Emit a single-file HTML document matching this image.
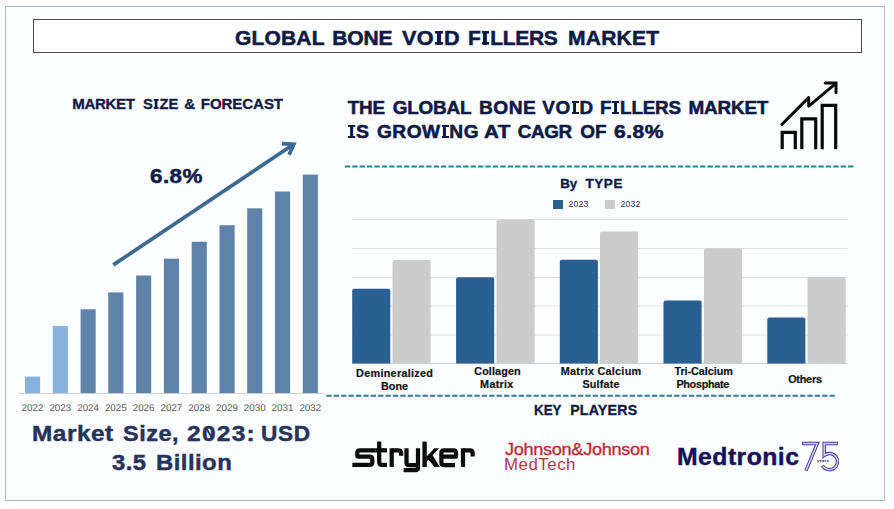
<!DOCTYPE html>
<html>
<head>
<meta charset="utf-8">
<title>Global Bone Void Fillers Market</title>
<style>
  html, body { margin:0; padding:0; }
  body { width:894px; height:509px; overflow:hidden; background:#ffffff; position:relative;
         font-family:"Liberation Sans", sans-serif; }
  .abs { position:absolute; }
  .t { position:absolute; white-space:nowrap; font-weight:bold; color:#0f1a45; line-height:1; }
  #frame { left:5px; top:6px; width:880px; height:494.5px; border:1.5px solid #a8bcc6; background:#fbfdfe; box-sizing:border-box; }
  #titlebox { left:33px; top:19px; width:829px; height:34px; border:1.5px solid #4a4a4a; background:#ffffff; box-sizing:border-box; }
  .lbar { position:absolute; width:15px; background:#5f83a8; }
  .lbar.lt { background:#86b2dc; }
  .yr { position:absolute; top:403px; width:28px; text-align:center; font-size:9.8px; text-rendering:geometricPrecision; color:#595959; line-height:12px; }
  .grid { position:absolute; left:352px; width:496px; height:1px; background:#e2e2e2; }
  .rb { position:absolute; width:38px; border-radius:2px 2px 0 0; }
  .rb.b { background:#2a5f92; }
  .rb.g { background:#cccccc; }
  .cat { position:absolute; width:104px; text-align:center; font-weight:bold; font-size:11px; line-height:13px; color:#111111; }
  .sI{display:inline-block;width:0.37em;height:0.69em;margin:0 0.045em;vertical-align:baseline;background:linear-gradient(currentColor,currentColor) center/0.185em 100% no-repeat,linear-gradient(currentColor,currentColor) top/100% 0.125em no-repeat,linear-gradient(currentColor,currentColor) bottom/100% 0.125em no-repeat;}
</style>
</head>
<body>
<div id="frame" class="abs"></div>
<div id="titlebox" class="abs"></div>

<!-- left section -->

<svg class="abs" style="left:0;top:0;" width="894" height="509" viewBox="0 0 894 509">
  <!-- big arrow -->
  <g fill="none" stroke="#3b6a94" stroke-width="3.7" stroke-linecap="butt" stroke-linejoin="miter">
    <line x1="113.3" y1="264.9" x2="292.2" y2="145.2"/>
    <polyline points="282,143.7 293.8,144.3 289.1,154.8" stroke-width="3.8"/>
  </g>
  <!-- gridlines -->
  <line x1="352" y1="219.5" x2="847.6" y2="219.5" stroke="#e2e2e2" stroke-width="1"/>
  <line x1="352" y1="248.5" x2="847.6" y2="248.5" stroke="#e2e2e2" stroke-width="1"/>
  <line x1="352" y1="277.5" x2="847.6" y2="277.5" stroke="#e2e2e2" stroke-width="1"/>
  <line x1="352" y1="306.0" x2="847.6" y2="306.0" stroke="#e2e2e2" stroke-width="1"/>
  <line x1="352" y1="335.0" x2="847.6" y2="335.0" stroke="#e2e2e2" stroke-width="1"/>
  <line x1="352" y1="363.5" x2="847.6" y2="363.5" stroke="#cfcfcf" stroke-width="1"/>
  <!-- bars -->
  <rect x="25.0" y="376.6" width="15.1" height="16.9" fill="#86b2dc"/>
  <rect x="52.8" y="326.0" width="15.1" height="67.5" fill="#86b2dc"/>
  <rect x="80.6" y="309.3" width="15.1" height="84.2" fill="#5f83a8"/>
  <rect x="108.3" y="292.4" width="15.1" height="101.1" fill="#5f83a8"/>
  <rect x="136.1" y="275.5" width="15.1" height="118.0" fill="#5f83a8"/>
  <rect x="163.9" y="258.7" width="15.1" height="134.8" fill="#5f83a8"/>
  <rect x="191.7" y="241.8" width="15.1" height="151.7" fill="#5f83a8"/>
  <rect x="219.5" y="225.2" width="15.1" height="168.3" fill="#5f83a8"/>
  <rect x="247.2" y="208.3" width="15.1" height="185.2" fill="#5f83a8"/>
  <rect x="275.0" y="191.5" width="15.1" height="202.0" fill="#5f83a8"/>
  <rect x="302.8" y="174.6" width="15.1" height="218.9" fill="#5f83a8"/>
  <path d="M352.2,363.4 V290.8 Q352.2,288.8 354.2,288.8 H388.3 Q390.3,288.8 390.3,290.8 V363.4 Z" fill="#2a5f92"/>
  <path d="M392.5,363.4 V262.0 Q392.5,260.0 394.5,260.0 H428.6 Q430.6,260.0 430.6,262.0 V363.4 Z" fill="#cccccc"/>
  <path d="M456.1,363.4 V279.2 Q456.1,277.2 458.1,277.2 H492.2 Q494.2,277.2 494.2,279.2 V363.4 Z" fill="#2a5f92"/>
  <path d="M496.5,363.4 V221.6 Q496.5,219.6 498.5,219.6 H532.6 Q534.6,219.6 534.6,221.6 V363.4 Z" fill="#cccccc"/>
  <path d="M559.8,363.4 V261.8 Q559.8,259.8 561.8,259.8 H595.9 Q597.9,259.8 597.9,261.8 V363.4 Z" fill="#2a5f92"/>
  <path d="M600.0,363.4 V233.4 Q600.0,231.4 602.0,231.4 H636.1 Q638.1,231.4 638.1,233.4 V363.4 Z" fill="#cccccc"/>
  <path d="M663.5,363.4 V302.6 Q663.5,300.6 665.5,300.6 H699.6 Q701.6,300.6 701.6,302.6 V363.4 Z" fill="#2a5f92"/>
  <path d="M704.0,363.4 V250.3 Q704.0,248.3 706.0,248.3 H740.1 Q742.1,248.3 742.1,250.3 V363.4 Z" fill="#cccccc"/>
  <path d="M767.3,363.4 V319.5 Q767.3,317.5 769.3,317.5 H803.4 Q805.4,317.5 805.4,319.5 V363.4 Z" fill="#2a5f92"/>
  <path d="M807.6,363.4 V279.0 Q807.6,277.0 809.6,277.0 H843.7 Q845.7,277.0 845.7,279.0 V363.4 Z" fill="#cccccc"/>
  <!-- axis -->
  <line x1="19" y1="393.5" x2="324" y2="393.5" stroke="#cfcfcf" stroke-width="1"/>
  <!-- dashed lines -->
  <line x1="344.8" y1="166.5" x2="853.8" y2="166.5" stroke="#2f7f9f" stroke-width="2" stroke-dasharray="5.4 2"/>
  <line x1="326.3" y1="395.8" x2="835.4" y2="395.8" stroke="#2f7f9f" stroke-width="2" stroke-dasharray="5.4 2"/>
</svg>

<!-- left bars -->

<div class="yr" style="left:18.5px;">2022</div>
<div class="yr" style="left:46.3px;">2023</div>
<div class="yr" style="left:74.1px;">2024</div>
<div class="yr" style="left:101.8px;">2025</div>
<div class="yr" style="left:129.6px;">2026</div>
<div class="yr" style="left:157.4px;">2027</div>
<div class="yr" style="left:185.2px;">2028</div>
<div class="yr" style="left:213px;">2029</div>
<div class="yr" style="left:240.7px;">2030</div>
<div class="yr" style="left:268.5px;">2031</div>
<div class="yr" style="left:296.3px;">2032</div>


<!-- right section -->

<div class="abs" style="left:553px; top:199.5px; width:10px; height:9px; background:#2a5f92;"></div>
<div class="abs" style="left:605px; top:199.5px; width:10px; height:9px; background:#cccccc;"></div>





<!-- ICON -->
<svg class="abs" id="icon" style="left:0;top:0;" width="894" height="509" viewBox="0 0 894 509">
  <g fill="none" stroke="#0a0a0a" stroke-width="3.2" stroke-linejoin="miter" stroke-linecap="butt">
    <polyline points="782.2,149.2 782.2,132.4 795.3,132.4 795.3,149.2"/>
    <polyline points="801.8,149.2 801.8,118.9 815.7,118.9 815.7,149.2"/>
    <polyline points="822.2,149.2 822.2,105.3 835.7,105.3 835.7,149.2"/>
    <polyline points="781.8,124.5 808.6,97.6 808.8,106.2 835.6,83.6" stroke-linecap="round" stroke-linejoin="round" stroke-width="3"/>
    <polyline points="825.2,83 836,83 836,92.6" stroke-linecap="round" stroke-width="3"/>
  </g>
</svg>

<!--TEXTS-->
<div class="t" style="left:235.0px;top:27px;font-size:21.0px;letter-spacing:0.17px;color:#0f1a45;-webkit-text-stroke:0.55px #0f1a45;">GLOBAL</div>
<div class="t" style="left:332.15px;top:27px;font-size:21.0px;letter-spacing:-0.07px;color:#0f1a45;-webkit-text-stroke:0.55px #0f1a45;">BONE</div>
<div class="t" style="left:402.35px;top:27px;font-size:21.0px;letter-spacing:0.4px;color:#0f1a45;transform-origin:0 0;transform:scaleX(1.03);-webkit-text-stroke:0.55px #0f1a45;">VO<span class="sI"></span>D</div>
<div class="t" style="left:468.05px;top:27px;font-size:21.0px;letter-spacing:-0.3px;color:#0f1a45;-webkit-text-stroke:0.55px #0f1a45;">F<span class="sI"></span>LLERS</div>
<div class="t" style="left:567.95px;top:27px;font-size:21.0px;letter-spacing:0.28px;color:#0f1a45;-webkit-text-stroke:0.55px #0f1a45;">MARKET</div>
<div class="t" style="left:72.3px;top:96px;font-size:15.1px;letter-spacing:-0.4px;color:#0f1a45;-webkit-text-stroke:0.35px #0f1a45;">MARKET</div>
<div class="t" style="left:143.25px;top:96px;font-size:15.1px;letter-spacing:-0.03px;color:#0f1a45;transform-origin:0 0;transform:scaleX(0.976);-webkit-text-stroke:0.35px #0f1a45;">S<span class="sI"></span>ZE</div>
<div class="t" style="left:184.2px;top:96px;font-size:15.1px;letter-spacing:0px;color:#0f1a45;-webkit-text-stroke:0.35px #0f1a45;">&amp;</div>
<div class="t" style="left:200.85px;top:96px;font-size:15.1px;letter-spacing:-0.11px;color:#0f1a45;-webkit-text-stroke:0.35px #0f1a45;">FORECAST</div>
<div class="t" style="left:347.7px;top:99px;font-size:18.9px;letter-spacing:-0.17px;color:#0f1a45;-webkit-text-stroke:0.55px #0f1a45;">THE</div>
<div class="t" style="left:392.7px;top:99px;font-size:18.9px;letter-spacing:-0.2px;color:#0f1a45;-webkit-text-stroke:0.55px #0f1a45;">GLOBAL</div>
<div class="t" style="left:478.5px;top:99px;font-size:18.9px;letter-spacing:0.47px;color:#0f1a45;transform-origin:0 0;transform:scaleX(1.015);-webkit-text-stroke:0.55px #0f1a45;">BONE</div>
<div class="t" style="left:542.25px;top:99px;font-size:18.9px;letter-spacing:0.62px;color:#0f1a45;-webkit-text-stroke:0.55px #0f1a45;">VO<span class="sI"></span>D</div>
<div class="t" style="left:600.1px;top:99px;font-size:18.9px;letter-spacing:-0.23px;color:#0f1a45;-webkit-text-stroke:0.55px #0f1a45;">F<span class="sI"></span>LLERS</div>
<div class="t" style="left:688.5px;top:99px;font-size:18.9px;letter-spacing:-0.19px;color:#0f1a45;-webkit-text-stroke:0.55px #0f1a45;">MARKET</div>
<div class="t" style="left:346.7px;top:123px;font-size:18.9px;letter-spacing:0px;color:#0f1a45;transform-origin:0 0;transform:scaleX(1.033);-webkit-text-stroke:0.55px #0f1a45;"><span class="sI"></span>S</div>
<div class="t" style="left:376.7px;top:123px;font-size:18.9px;letter-spacing:0.45px;color:#0f1a45;transform-origin:0 0;transform:scaleX(1.014);-webkit-text-stroke:0.55px #0f1a45;">GROW<span class="sI"></span>NG</div>
<div class="t" style="left:483.55px;top:123px;font-size:18.9px;letter-spacing:0.35px;color:#0f1a45;transform-origin:0 0;transform:scaleX(1.09);-webkit-text-stroke:0.55px #0f1a45;">AT</div>
<div class="t" style="left:517.8px;top:123px;font-size:18.9px;letter-spacing:-0.45px;color:#0f1a45;-webkit-text-stroke:0.55px #0f1a45;">CAGR</div>
<div class="t" style="left:580.3px;top:123px;font-size:18.9px;letter-spacing:0.05px;color:#0f1a45;-webkit-text-stroke:0.55px #0f1a45;">OF</div>
<div class="t" style="left:614.4px;top:123px;font-size:18.9px;letter-spacing:0.42px;color:#0f1a45;transform-origin:0 0;transform:scaleX(1.115);-webkit-text-stroke:0.55px #0f1a45;">6.8%</div>
<div class="t" style="left:32.0px;top:424px;font-size:21.5px;letter-spacing:0.46px;color:#27335a;transform-origin:0 0;transform:scaleX(1.134);-webkit-text-stroke:0.45px #27335a;">Market</div>
<div class="t" style="left:122.7px;top:424px;font-size:21.5px;letter-spacing:0.44px;color:#27335a;transform-origin:0 0;transform:scaleX(1.093);-webkit-text-stroke:0.45px #27335a;">Size,</div>
<div class="t" style="left:187.0px;top:424px;font-size:21.5px;letter-spacing:1.11px;color:#27335a;transform-origin:0 0;transform:scaleX(1.14);-webkit-text-stroke:0.45px #27335a;">2023:</div>
<div class="t" style="left:260.85px;top:424px;font-size:21.5px;letter-spacing:0.56px;color:#27335a;transform-origin:0 0;transform:scaleX(1.053);-webkit-text-stroke:0.45px #27335a;">USD</div>
<div class="t" style="left:112.05px;top:453px;font-size:21.5px;letter-spacing:0.45px;color:#27335a;transform-origin:0 0;transform:scaleX(1.108);-webkit-text-stroke:0.45px #27335a;">3.5</div>
<div class="t" style="left:156.35px;top:453px;font-size:21.5px;letter-spacing:0.42px;color:#27335a;transform-origin:0 0;transform:scaleX(1.11);-webkit-text-stroke:0.45px #27335a;">Billion</div>
<div class="t" style="left:149.6px;top:165px;font-size:21px;letter-spacing:0.42px;color:#0f1a45;transform-origin:0 0;transform:scaleX(1.067);-webkit-text-stroke:0.5px #0f1a45;">6.8%</div>
<div class="t" style="left:560.25px;top:177px;font-size:13.4px;letter-spacing:-0.1px;color:#0f1a45;-webkit-text-stroke:0.35px #0f1a45;">By</div>
<div class="t" style="left:585.6px;top:177px;font-size:13.4px;letter-spacing:0.58px;color:#0f1a45;-webkit-text-stroke:0.35px #0f1a45;">TYPE</div>
<div class="t" style="left:534.15px;top:403px;font-size:14.2px;letter-spacing:0.05px;color:#0f1a45;transform-origin:0 0;transform:scaleX(0.94);-webkit-text-stroke:0.35px #0f1a45;">KEY</div>
<div class="t" style="left:570.15px;top:403px;font-size:14.2px;letter-spacing:0.22px;color:#0f1a45;-webkit-text-stroke:0.35px #0f1a45;">PLAYERS</div>
<div class="t" style="left:568.6px;top:200px;font-size:8.6px;letter-spacing:0.18px;color:#2b2b3b;font-weight:normal;">2023</div>
<div class="t" style="left:620.6px;top:200px;font-size:8.6px;letter-spacing:0.18px;color:#2b2b3b;font-weight:normal;">2032</div>
<div class="t" style="left:356.1px;top:368px;font-size:10.8px;letter-spacing:0.3px;color:#111111;-webkit-text-stroke:0.2px #111;">Demineralized</div>
<div class="t" style="left:381.1px;top:381px;font-size:10.8px;letter-spacing:-0.02px;color:#111111;-webkit-text-stroke:0.2px #111;">Bone</div>
<div class="t" style="left:474.25px;top:366px;font-size:10.8px;letter-spacing:0.11px;color:#111111;-webkit-text-stroke:0.2px #111;">Collagen</div>
<div class="t" style="left:480.1px;top:379px;font-size:10.8px;letter-spacing:0.29px;color:#111111;-webkit-text-stroke:0.2px #111;">Matrix</div>
<div class="t" style="left:560.8px;top:366px;font-size:10.8px;letter-spacing:0.27px;color:#111111;-webkit-text-stroke:0.2px #111;">Matrix Calcium</div>
<div class="t" style="left:582.45px;top:379px;font-size:10.8px;letter-spacing:0.17px;color:#111111;-webkit-text-stroke:0.2px #111;">Sulfate</div>
<div class="t" style="left:674.5px;top:366px;font-size:10.8px;letter-spacing:-0.05px;color:#111111;-webkit-text-stroke:0.2px #111;">Tri-Calcium</div>
<div class="t" style="left:676.4px;top:379px;font-size:10.8px;letter-spacing:-0.29px;color:#111111;-webkit-text-stroke:0.2px #111;">Phosphate</div>
<div class="t" style="left:788.15px;top:374px;font-size:10.8px;letter-spacing:-0.21px;color:#111111;-webkit-text-stroke:0.2px #111;">Others</div>
<div class="t" style="left:504.65px;top:441px;font-size:16.2px;letter-spacing:-0.28px;color:#bb2a30;font-weight:normal;transform-origin:0 0;transform:scaleX(1.12);-webkit-text-stroke:0.3px #bb2a30;">Johnson&amp;Johnson</div>
<div class="t" style="left:503.65px;top:456px;font-size:16.2px;letter-spacing:0.48px;color:#b03a3e;font-weight:normal;transform-origin:0 0;transform:scaleX(1.042);">MedTech</div>
<div class="t" style="left:677.0px;top:446px;font-size:23.4px;letter-spacing:0.41px;color:#170f5a;transform-origin:0 0;transform:scaleX(1.06);-webkit-text-stroke:0.4px #170f5a;">Medtronic</div>
<!--/TEXTS-->


<!-- LOGOS -->
<svg class="abs" id="logos" style="left:0;top:0;" width="894" height="509" viewBox="0 0 894 509">
  <!-- stryker -->
  <g id="stryker" fill="none" stroke="#0b0b0b" stroke-width="4.25" stroke-linecap="butt" stroke-linejoin="round">
    <!-- s -->
    <path d="M375.8,450.3 H360 Q357.3,450.3 357.3,453 V455.4 Q357.3,456.6 358.5,456.6 H369.8 Q372.3,456.6 372.3,459.2 V462.3 Q372.3,464.9 369.6,464.9 H352.3"/>
    <!-- t -->
    <path d="M379.2,441.6 V462.2 Q379.2,464.9 382,464.9 H387"/>
    <path d="M375.8,450.3 H387"/>
    <!-- r -->
    <path d="M391.7,466.9 V448.3"/>
    <path d="M391.7,450.3 H398.4 Q401.1,450.3 401.1,453 V455.8"/>
    <!-- y -->
    <path d="M406.5,448.3 V462.6 Q406.5,465.2 409.2,465.2 H418"/>
    <path d="M418,448.3 V467.4 Q418,470.1 415.3,470.1 H403.6"/>
    <!-- k stem -->
    <path d="M424.6,441.6 V466.9" stroke-width="4.4"/>
    <!-- e -->
    <path d="M455,465.1 H444 Q441.4,465.1 441.4,462.4 V453 Q441.4,450.3 444,450.3 H453.4 Q456,450.3 456,453 V456.7 H441.4"/>
    <!-- r -->
    <path d="M463,466.9 V448.3"/>
    <path d="M463,450.3 H469.9 Q472.6,450.3 472.6,453 V456.5"/>
  </g>
  <g fill="#0b0b0b" stroke="none">
    <polygon points="426.6,456.6 434.3,448.3 439.2,448.3 426.6,461.6"/>
    <polygon points="431.6,453.6 439.9,466.9 434.4,466.9 428,458.9"/>
  </g>
  <!-- slashed zero in 2023 -->
  <line x1="206.7" y1="428.6" x2="211.5" y2="437.5" stroke="#27335a" stroke-width="1.9"/>
  <!-- medtronic 75 -->
  <g id="m75" fill="none" stroke-linecap="butt" stroke-linejoin="miter">
    <g stroke="#433e9c" stroke-width="3.4">
      <path d="M801.9,443.5 H817.3 L806,470.6"/>
      <path d="M838,443.5 H824.2 V455.4 A8.1,8.1 0 1 1 822.4,465.6"/>
    </g>
    <g stroke="#d2d0f8" stroke-width="1.5">
      <path d="M802.8,443.5 H817.3 L806.3,469.9"/>
      <path d="M837.1,443.5 H824.2 V455.4 A8.1,8.1 0 1 1 822.9,466.3"/>
    </g>
  </g>
</svg>
<div class="t" style="left:817px; top:458.6px; font-size:4.4px; color:#2d2a70; letter-spacing:0.1px;">years</div>
</body>
</html>
